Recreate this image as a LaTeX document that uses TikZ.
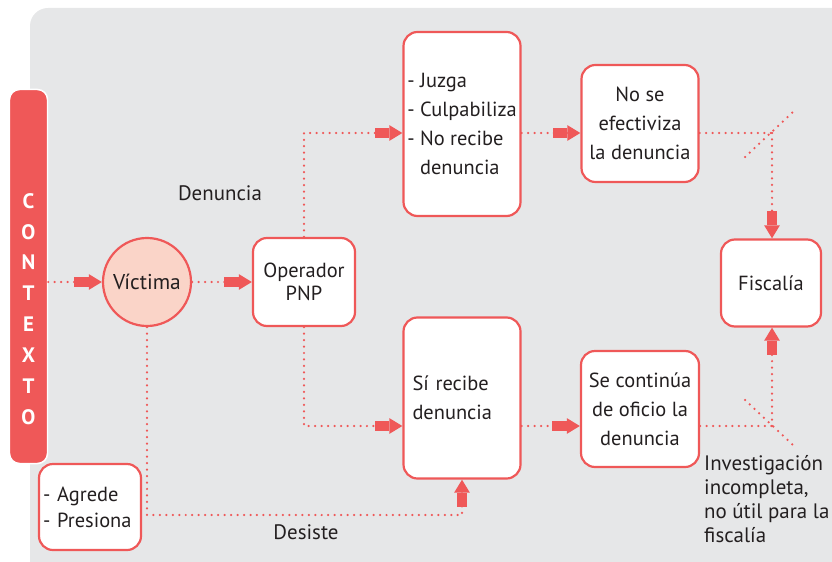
\documentclass[tikz,border=0pt]{standalone}
\usepackage{fontspec}
\setmainfont{PT Sans}
\usepackage{tikz}
\usetikzlibrary{arrows.meta}
\definecolor{rojo}{RGB}{239,88,88}
\definecolor{rosa}{RGB}{250,212,200}
\definecolor{fondo}{RGB}{230,231,232}
\definecolor{texto}{RGB}{35,31,32}

\tikzset{
  caja/.style={draw=rojo, line width=2.2pt, fill=white, rounded corners=14bp, text=texto, inner sep=0pt, font=\fontsize{20.5}{29}\selectfont},
  linea/.style={rojo, line width=2.5pt, line cap=round, dash pattern=on 0pt off 6.5pt},
  flecha/.style={linea, -{Square[length=15pt,width=11pt]Triangle[length=13pt,width=15pt,sep=0pt]}},
  etiqueta/.style={text=texto, font=\fontsize{21}{24}\selectfont},
}

\begin{document}
\begin{tikzpicture}[x=1bp, y=-1bp]
                \useasboundingbox (0,0) rectangle (832,562);
                \fill[fondo, rounded corners=18bp] (30,8) rectangle (870,600);

                % Nodes
                \node at (28.5,276.5) (ctx) [draw=white, line width=1.5pt, fill=rojo, rounded corners=10bp, minimum width=38bp, minimum height=374bp] {};
                \node at (28.5,309) (ctxtxt) [text=white, align=center, font=\bfseries\fontsize{21}{31}\selectfont] {C\\O\\N\\T\\E\\X\\T\\O};
                \node at (147,282) (vic) [circle, draw=rojo, line width=2.2pt, fill=rosa, minimum size=88bp, inner sep=0pt, text=texto, font=\fontsize{21.5}{24}\selectfont] {Víctima};
                \node at (304,282) (ope) [caja, minimum width=102bp, minimum height=88bp, align=center, font=\fontsize{20.5}{23}\selectfont] {Operador\\PNP};
                \node at (462,124) (juzga) [caja, minimum width=117bp, minimum height=184bp, align=left] {- Juzga\\- Culpabiliza\\- No recibe\\\phantom{- }denuncia};
                \node at (640,123.5) (noefec) [caja, minimum width=117bp, minimum height=117bp, align=center] {No se\\efectiviza\\la denuncia};
                \node at (462,398) (sirec) [caja, minimum width=117bp, minimum height=161bp, text width=99bp, align=left] {Sí recibe\\denuncia};
                \node at (640,409) (oficio) [caja, minimum width=118bp, minimum height=116bp, align=center] {Se continúa\\de oficio la\\denuncia};
                \node at (771,283) (fisc) [caja, minimum width=100bp, minimum height=87bp] {Fiscalía};
                \node at (90,507) (agrede) [caja, minimum width=102bp, minimum height=86bp, text width=94bp, align=left, font=\fontsize{20.5}{26}\selectfont] {- Agrede\\- Presiona};
                \node at (220,193) (den) [etiqueta] {Denuncia};
                \node at (306,532) (desiste) [etiqueta] {Desiste};
                \node at (704,499) (invest) [etiqueta, anchor=west, align=left, inner sep=0pt] {Investigación\\incompleta,\\no útil para la\\fiscalía};

                \coordinate (fila1) at (0,133);
                \coordinate (fila2) at (0,426);
                \coordinate (fila3) at (0,515);
                \coordinate (j1) at (772,133);
                \coordinate (j2) at (772,426);

                % Arrows
                \draw[flecha] (ctx.east |- vic) -- (vic.west);
                \draw[flecha] (vic.east) -- (ope.west);
                \draw[flecha] (ope.north) |- (juzga.west |- fila1);
                \draw[flecha] (juzga.east |- fila1) -- (noefec.west |- fila1);
                \draw[flecha] (ope.south) |- (sirec.west |- fila2);
                \draw[flecha] (sirec.east |- fila2) -- (oficio.west |- fila2);
                \draw[flecha] (vic.south) |- (sirec.south |- fila3) -- (sirec.south);

                % Fiscalía branches
                \draw[linea] (noefec.east |- fila1) -- (j1);
                \draw[linea] ([shift={(-27,24)}]j1) -- ([shift={(21,-21)}]j1);
                \draw[flecha] (j1) -- (j1 |- fisc.north);
                \draw[linea] (oficio.east |- fila2) -- (j2);
                \draw[linea] ([shift={(-27,-26)}]j2) -- ([shift={(21,19)}]j2);
                \draw[flecha] (j2) -- (j2 |- fisc.south);

            \end{tikzpicture}
\end{document}
